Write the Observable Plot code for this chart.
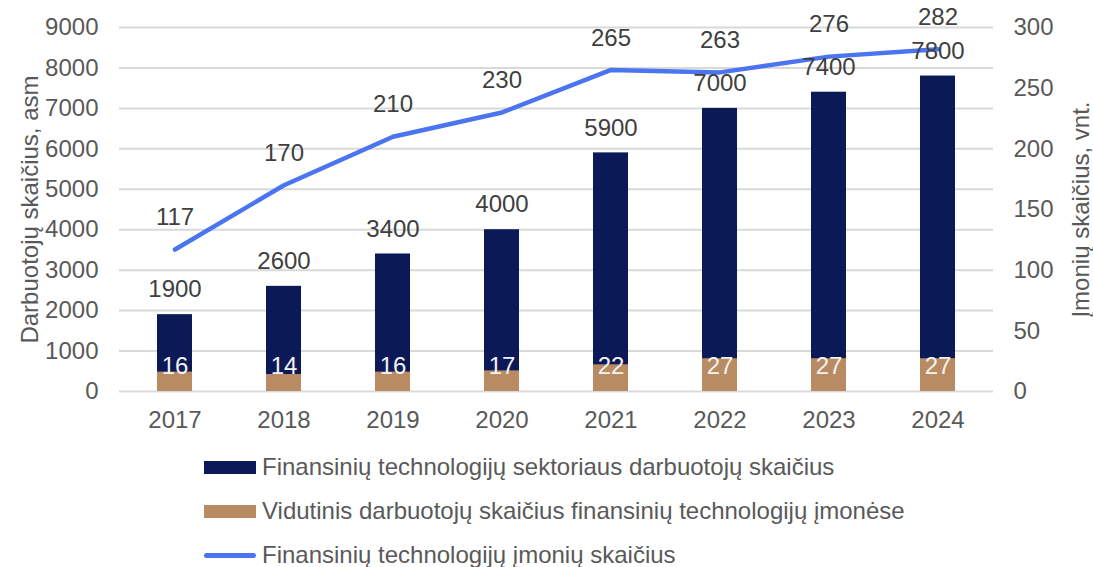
<!DOCTYPE html>
<html>
<head>
<meta charset="utf-8">
<script src="https://cdn.jsdelivr.net/npm/d3@7"></script>
<script src="https://cdn.jsdelivr.net/npm/@observablehq/plot@0.6"></script>
<style>
  body { margin: 0; background: #fff; overflow: hidden; font-family: "Liberation Sans", Arial, sans-serif; }
  #legend { padding-left: 204px; color: #595959; font-size: 24px; }
  .row { display: flex; align-items: center; height: 44px; }
  .sw { width: 52px; height: 13px; margin-right: 6px; flex: none; }
  .ln { width: 52px; height: 5px; border-radius: 3px; margin-right: 6px; flex: none; }
</style>
</head>
<body>
<div id="chart"></div>
<div id="legend"></div>
<script>
const years = ["2017", "2018", "2019", "2020", "2021", "2022", "2023", "2024"];
const employees = [1900, 2600, 3400, 4000, 5900, 7000, 7400, 7800];
const avgEmployees = [16, 14, 16, 17, 22, 27, 27, 27];
const companies = [117, 170, 210, 230, 265, 263, 276, 282];
const leftTicks = [0, 1000, 2000, 3000, 4000, 5000, 6000, 7000, 8000, 9000];
const rightTicks = [0, 50, 100, 150, 200, 250, 300];
const seriesNames = [
  "Finansinių technologijų sektoriaus darbuotojų skaičius",
  "Vidutinis darbuotojų skaičius finansinių technologijų įmonėse",
  "Finansinių technologijų įmonių skaičius"
];
const leftTitle = "Darbuotojų skaičius, asm";
const rightTitle = "Įmonių skaičius, vnt.";

const navy = "#0b1957";
const brown = "#b98b63";
const blue = "#4a74f0";
const ratio = 9000 / 300;
const FS = 24;

const data = years.map((y, i) => ({
  year: y,
  emp: employees[i],
  avg: avgEmployees[i],
  avgScaled: avgEmployees[i] * ratio,
  comp: companies[i],
  compScaled: companies[i] * ratio
}));

const chart = Plot.plot({
  width: 1093,
  height: 445,
  marginLeft: 119,
  marginRight: 100,
  marginTop: 27,
  marginBottom: 54,
  style: { fontFamily: "Liberation Sans, Arial, sans-serif", fontSize: FS + "px", color: "#595959", background: "white", overflow: "visible" },
  x: { type: "band", domain: years, paddingInner: 0.68, paddingOuter: 0.34, label: null },
  y: { domain: [0, 9000], label: null },
  marks: [
    Plot.gridY(leftTicks, { stroke: "#d9d9d9", strokeOpacity: 1, strokeWidth: 2 }),
    Plot.axisX({ tickSize: 0, tickPadding: 19, label: null, fill: "#595959", fontSize: FS }),
    Plot.axisY({ ticks: leftTicks, tickFormat: d => String(d), tickSize: 0, tickPadding: 21, label: null, anchor: "left", fill: "#595959", fontSize: FS }),
    Plot.axisY({ ticks: rightTicks.map(v => v * ratio), tickFormat: d => String(Math.round(d / ratio)), tickSize: 0, tickPadding: 20, label: null, anchor: "right", fill: "#595959", fontSize: FS }),
    Plot.barY(data, { x: "year", y: "emp", fill: navy }),
    Plot.barY(data, { x: "year", y: "avgScaled", fill: brown }),
    Plot.lineY(data, { x: "year", y: "compScaled", stroke: blue, strokeWidth: 4.5, curve: "linear" }),
    Plot.text(data, { x: "year", y: "emp", text: d => String(d.emp), dy: -25, fill: "#404040", fontSize: FS }),
    Plot.text(data, { x: "year", y: "compScaled", text: d => String(d.comp), dy: -32, fill: "#404040", fontSize: FS }),
    Plot.text(data, { x: "year", y: 0, text: d => String(d.avg), dy: -25, fill: "#f2f2f2", fontSize: FS }),
    Plot.text([leftTitle], { frameAnchor: "left", textAnchor: "middle", rotate: -90, dx: -89, fill: "#595959", fontSize: FS }),
    Plot.text([rightTitle], { frameAnchor: "right", textAnchor: "middle", rotate: -90, dx: 88, fill: "#595959", fontSize: FS })
  ]
});
document.getElementById("chart").appendChild(chart);

const legend = document.getElementById("legend");
const kinds = [["sw", navy], ["sw", brown], ["ln", blue]];
seriesNames.forEach((name, i) => {
  const row = document.createElement("div");
  row.className = "row";
  const s = document.createElement("div");
  s.className = kinds[i][0];
  s.style.background = kinds[i][1];
  const t = document.createElement("span");
  t.textContent = name;
  row.appendChild(s);
  row.appendChild(t);
  legend.appendChild(row);
});
</script>
</body>
</html>
